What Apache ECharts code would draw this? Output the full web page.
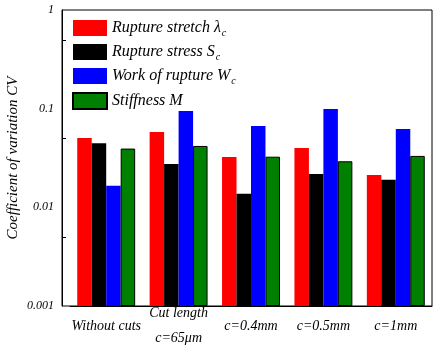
<!DOCTYPE html>
<html>
<head>
<meta charset="utf-8">
<script src="https://cdn.jsdelivr.net/npm/echarts@6/dist/echarts.min.js"></script>
<style>
  html, body { margin: 0; padding: 0; background: #fff; }
  #main { width: 445px; height: 355px; }
</style>
</head>
<body>
<div id="main"></div>
<script>
var categories = ['Without cuts', 'Cut length\nc=65\u03bcm', 'c=0.4mm', 'c=0.5mm', 'c=1mm'];
var stretchCV = [0.0505, 0.058, 0.0324, 0.040, 0.0213];
var stressCV = [0.0446, 0.0275, 0.0137, 0.0218, 0.019];
var workCV = [0.0165, 0.0948, 0.0668, 0.099, 0.0622];
var stiffnessCV = [0.0394, 0.0419, 0.0326, 0.0293, 0.0332];
var yTicks = [0.001, 0.01, 0.1, 1];
var minorTicks = [0.005, 0.05, 0.5];

var serif = '"Liberation Serif", serif';

!function(){
  var myChart = echarts.init(document.getElementById('main'));
  // echarts bars grow from 0 (or 1 on log axes), so plot decades above 0.001 on a value axis
  var base = yTicks[0];
  var dec = function(v){ return Math.log10(v / base); };
  var lg = function(arr){ return arr.map(dec); };
  var legendText = {
    'Rupture stretch': '{a|Rupture stretch \u03bb}{s|c}',
    'Rupture stress': '{a|Rupture stress S}{s|c}',
    'Work of rupture': '{a|Work of rupture W}{s|c}',
    'Stiffness': '{a|Stiffness M}'
  };
  var option = {
    animation: false,
    grid: [
      // frame only
      { left: 62, right: 13, top: 10, bottom: 49, show: true, borderColor: '#000', borderWidth: 1, outerBoundsMode: 'none' },
      // plotting area, categories start a little right of the y axis
      { left: 70, right: 13, top: 10, bottom: 49, outerBoundsMode: 'none' }
    ],
    legend: {
      orient: 'vertical',
      left: 72, top: 20, padding: 0,
      itemWidth: 34, itemHeight: 16, itemGap: 6,
      icon: 'rect',
      formatter: function(name){ return legendText[name]; },
      textStyle: {
        rich: {
          a: { fontFamily: serif, fontStyle: 'italic', fontSize: 16, color: '#000' },
          s: { fontFamily: serif, fontStyle: 'italic', fontSize: 10, color: '#000', padding: [10, 0, 0, 1] }
        }
      }
    },
    xAxis: {
      type: 'category', gridIndex: 1,
      data: categories,
      axisTick: { show: false },
      axisLine: { lineStyle: { color: '#000', width: 1 } },
      axisLabel: { color: '#000', fontFamily: serif, fontStyle: 'italic', fontSize: 14, lineHeight: 25, margin: 20, verticalAlign: 'middle', interval: 0 }
    },
    yAxis: {
      type: 'value', gridIndex: 1, offset: 8,
      min: 0, max: dec(yTicks[yTicks.length - 1]), interval: 1,
      name: 'Coefficient of variation CV',
      nameLocation: 'middle', nameGap: 41, nameMoveOverlap: false,
      nameTextStyle: { color: '#000', fontFamily: serif, fontStyle: 'italic', fontSize: 15 },
      axisLine: { show: true, lineStyle: { color: '#000' } },
      axisTick: { inside: true, length: 6, lineStyle: { color: '#000' } },
      splitLine: { show: false },
      axisLabel: {
        color: '#000', fontFamily: serif, fontStyle: 'italic', fontSize: 12, margin: 8,
        formatter: function(v){ return String(yTicks[Math.round(v)]); }
      }
    },
    series: [
      { name: 'Rupture stretch', type: 'bar', data: lg(stretchCV), barGap: 0, barCategoryGap: '20%', itemStyle: { color: '#ff0000' } },
      { name: 'Rupture stress', type: 'bar', data: lg(stressCV), itemStyle: { color: '#000000' } },
      { name: 'Work of rupture', type: 'bar', data: lg(workCV), itemStyle: { color: '#0000ff' } },
      { name: 'Stiffness', type: 'bar', data: lg(stiffnessCV), itemStyle: { color: '#008000', borderColor: '#000', borderWidth: 1 } }
    ]
  };
  myChart.setOption(option);

  // minor ticks at 5 x 10^n, placed through the axis scale
  var gr = [];
  minorTicks.forEach(function(v){
    var y = Math.round(myChart.convertToPixel({ yAxisIndex: 0 }, dec(v))) + 0.5;
    gr.push({ type: 'line', shape: { x1: 62, y1: y, x2: 66, y2: y }, style: { stroke: '#000', lineWidth: 1 }, z: 10 });
  });
  myChart.setOption({ graphic: gr });
}();
</script>
</body>
</html>
